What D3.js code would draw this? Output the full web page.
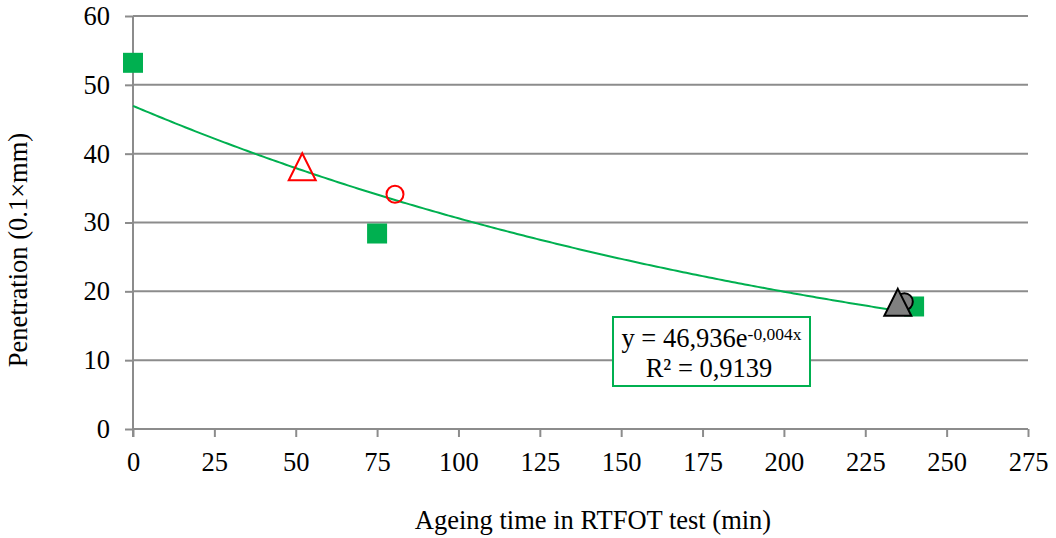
<!DOCTYPE html>
<html>
<head>
<meta charset="utf-8">
<script src="https://cdn.jsdelivr.net/npm/d3@7"></script>
<style>
  html, body { margin: 0; padding: 0; background: #fff; }
  svg text { font-family: "Liberation Serif", "Times New Roman", "DejaVu Serif", serif !important; fill: #000; }
</style>
</head>
<body>
<svg id="chart" width="1056" height="538"></svg>
<script>
// Penetration after RTFOT ageing
const xTicks = [0, 25, 50, 75, 100, 125, 150, 175, 200, 225, 250, 275];
const yTicks = [0, 10, 20, 30, 40, 50, 60];

// Series with exponential trendline (green squares)
const squareX = [0, 75, 240];
const squareY = [53.2, 28.4, 17.8];

// Open red triangle / open red circle
const redTriangleX = [52];
const redTriangleY = [38.1];
const redCircleX = [80.5];
const redCircleY = [34.1];

// Grey filled triangle / grey filled circle
const greyTriangleX = [235];
const greyTriangleY = [18.4];
const greyCircleX = [237];
const greyCircleY = [18.5];

const trendLabel1 = "y = 46,936e";
const trendLabel1Sup = "-0,004x";
const trendLabel2 = "R² = 0,9139";

(function () {
const svg = d3.select("#chart");
const padL = 133, padR = 1028, padT = 16, padB = 429;
const fs = 26.5;

const x = d3.scaleLinear().domain([0, 275]).range([padL, padR]);
const y = d3.scaleLinear().domain([0, 60]).range([padB, padT]);

const axisColor = "#8c8c8c";

// Horizontal gridlines
svg.append("g")
  .selectAll("line")
  .data(yTicks.filter(d => d > 0))
  .join("line")
  .attr("x1", padL).attr("x2", padR)
  .attr("y1", d => y(d)).attr("y2", d => y(d))
  .attr("stroke", axisColor).attr("stroke-width", 2);

// Y axis
const yAxis = svg.append("g")
  .attr("transform", `translate(${padL},0)`)
  .call(d3.axisLeft(y).tickValues(yTicks).tickSize(8).tickPadding(15).tickFormat(d3.format("d")));
yAxis.select(".domain").attr("stroke", axisColor).attr("stroke-width", 2)
  .attr("d", `M0,${padT}V${padB + 8}`);
yAxis.selectAll(".tick line").attr("stroke", axisColor).attr("stroke-width", 2);
yAxis.selectAll(".tick text").attr("font-size", fs);

// X axis
const xAxis = svg.append("g")
  .attr("transform", `translate(0,${padB})`)
  .call(d3.axisBottom(x).tickValues(xTicks).tickSize(8).tickPadding(15).tickFormat(d3.format("d")));
xAxis.select(".domain").attr("stroke", axisColor).attr("stroke-width", 2)
  .attr("d", `M${padL},0H${padR}`);
xAxis.selectAll(".tick line").attr("stroke", axisColor).attr("stroke-width", 2);
xAxis.selectAll(".tick text").attr("font-size", fs);

// Axis titles
svg.append("text")
  .attr("x", 593).attr("y", 529)
  .attr("text-anchor", "middle").attr("font-size", fs)
  .text("Ageing time in RTFOT test (min)");

svg.append("text")
  .attr("transform", `translate(27,250) rotate(-90)`)
  .attr("text-anchor", "middle").attr("font-size", fs)
  .text("Penetration (0.1×mm)");

// Exponential least-squares fit of the green series: ln(y) = ln(a) + k·x
const lnY = squareY.map(Math.log);
const mx = d3.mean(squareX), my = d3.mean(lnY);
const sxy = d3.sum(squareX, (v, i) => (v - mx) * (lnY[i] - my));
const sxx = d3.sum(squareX, v => (v - mx) * (v - mx));
const k = sxy / sxx;
const a = Math.exp(my - k * mx);
const trendX = d3.range(0, d3.max(squareX) + 0.5, 1);
svg.append("path")
  .datum(trendX)
  .attr("fill", "none")
  .attr("stroke", "#00b050").attr("stroke-width", 2)
  .attr("d", d3.line().x(d => x(d)).y(d => y(a * Math.exp(k * d))));

const green = "#00b050";
const zip = (xs, ys) => xs.map((v, i) => ({ x: v, y: ys[i] }));

// Green squares
const sq = 20;
svg.append("g").selectAll("rect")
  .data(zip(squareX, squareY)).join("rect")
  .attr("x", d => x(d.x) - sq / 2).attr("y", d => y(d.y) - sq / 2)
  .attr("width", sq).attr("height", sq).attr("fill", green);

// Circles
svg.append("g").selectAll("circle")
  .data(zip(greyCircleX, greyCircleY)).join("circle")
  .attr("cx", d => x(d.x)).attr("cy", d => y(d.y)).attr("r", 8.5)
  .attr("fill", "#808080").attr("stroke", "#000").attr("stroke-width", 2);
svg.append("g").selectAll("circle")
  .data(zip(redCircleX, redCircleY)).join("circle")
  .attr("cx", d => x(d.x)).attr("cy", d => y(d.y)).attr("r", 8.5)
  .attr("fill", "none").attr("stroke", "#ff0000").attr("stroke-width", 2);

// Triangles
const tri = (cx, cy) => {
  const w = 13.5, h = 13.5;
  return `M${cx},${cy - h}L${cx + w},${cy + h}L${cx - w},${cy + h}Z`;
};
svg.append("g").selectAll("path")
  .data(zip(redTriangleX, redTriangleY)).join("path")
  .attr("d", d => tri(x(d.x), y(d.y)))
  .attr("fill", "none").attr("stroke", "#ff0000").attr("stroke-width", 2);
svg.append("g").selectAll("path")
  .data(zip(greyTriangleX, greyTriangleY)).join("path")
  .attr("d", d => tri(x(d.x), y(d.y)))
  .attr("fill", "#808080").attr("stroke", "#000").attr("stroke-width", 2);

// Trendline equation box
const box = svg.append("g");
box.append("rect")
  .attr("x", 613).attr("y", 317).attr("width", 197).attr("height", 69)
  .attr("fill", "#fff").attr("stroke", green).attr("stroke-width", 2);
const eq = box.append("text")
  .attr("x", 711.5).attr("y", 347).attr("text-anchor", "middle")
  .attr("font-size", fs);
eq.append("tspan").text(trendLabel1);
eq.append("tspan").attr("font-size", 17.5).attr("dy", -7).text(trendLabel1Sup);
box.append("text")
  .attr("x", 709).attr("y", 377).attr("text-anchor", "middle")
  .attr("font-size", fs)
  .text(trendLabel2);
})();
</script>
</body>
</html>
